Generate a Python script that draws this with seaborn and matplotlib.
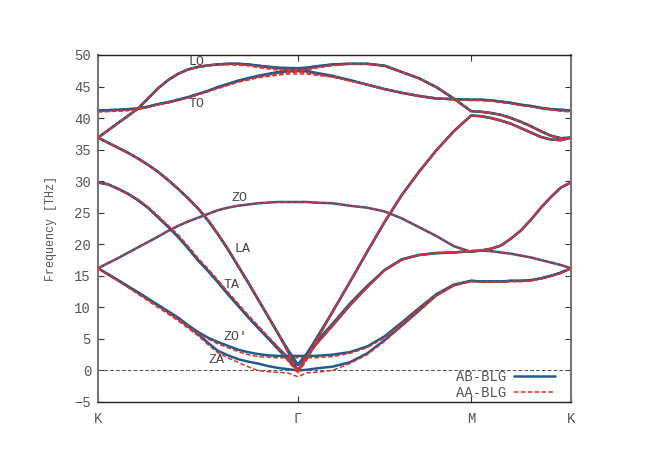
import numpy as np
import pandas as pd
import matplotlib
matplotlib.use("Agg")
import matplotlib.pyplot as plt
from matplotlib.lines import Line2D
import seaborn as sns

# --- path K - Gamma - M - K (segment lengths in units of |Gamma K|) ---
seg_len = [1.0, 0.866, 0.5]
path_labels = ["K", "Γ", "M", "K"]
frac_kg = [0.0, 0.05, 0.1, 0.15, 0.2, 0.25, 0.3, 0.35, 0.4, 0.45, 0.5,
           0.55, 0.6, 0.65, 0.7, 0.75, 0.8, 0.85, 0.9, 0.95, 1.0]
frac_gm = [0.05, 0.1, 0.2, 0.3, 0.4, 0.5, 0.6, 0.7, 0.8, 0.9, 1.0]
frac_mk = [0.1, 0.2, 0.3, 0.4, 0.5, 0.6, 0.7, 0.8, 0.9, 1.0]

# --- AB stacked bilayer (THz): K-G | G-M | M-K ---
ab_lo = [36.9, 38.05, 39.2, 40.35, 41.5, 43.1, 44.7, 46.0, 47.0, 47.7, 48.1, 48.35, 48.5, 48.6, 48.6, 48.5, 48.3, 48.15, 48.0, 47.95, 47.9,
         48.0, 48.2, 48.5, 48.6, 48.6, 48.3, 47.3, 46.3, 44.9, 43.1, 41.1,
         41.0, 40.8, 40.5, 40.0, 39.4, 38.7, 37.9, 37.2, 36.8, 36.9]
ab_lo2 = [36.9, 38.05, 39.2, 40.35, 41.5, 43.1, 44.7, 46.0, 47.0, 47.7, 48.1, 48.35, 48.5, 48.6, 48.6, 48.5, 48.3, 48.1, 47.9, 47.8, 47.75,
          47.85, 48.1, 48.5, 48.6, 48.6, 48.3, 47.3, 46.3, 44.9, 43.1, 41.1,
          41.0, 40.8, 40.5, 40.0, 39.4, 38.7, 37.9, 37.2, 36.8, 36.9]
ab_to = [41.2, 41.25, 41.3, 41.4, 41.5, 41.8, 42.2, 42.5, 42.9, 43.3, 43.8, 44.3, 44.9, 45.4, 45.9, 46.3, 46.7, 47.0, 47.3, 47.5, 47.6,
         47.5, 47.2, 46.7, 46.0, 45.3, 44.6, 44.0, 43.5, 43.1, 43.0, 42.9,
         42.9, 42.8, 42.6, 42.4, 42.1, 41.9, 41.6, 41.4, 41.3, 41.2]
ab_to2 = [41.2, 41.25, 41.3, 41.4, 41.5, 41.8, 42.2, 42.5, 42.9, 43.3, 43.8, 44.3, 44.9, 45.4, 45.9, 46.3, 46.6, 46.9, 47.2, 47.4, 47.45,
          47.4, 47.1, 46.6, 46.0, 45.3, 44.6, 44.0, 43.5, 43.1, 43.0, 42.9,
          42.9, 42.8, 42.6, 42.4, 42.1, 41.9, 41.6, 41.4, 41.3, 41.2]
ab_la = [36.9, 36.1, 35.3, 34.5, 33.6, 32.6, 31.5, 30.2, 28.8, 27.3, 25.7, 23.8, 21.6, 19.2, 16.6, 14.0, 11.3, 8.6, 5.9, 3.0, 0.0,
         2.2, 4.5, 9.3, 14.0, 18.8, 23.5, 27.8, 31.5, 34.9, 37.9, 40.4,
         40.3, 40.0, 39.6, 39.1, 38.4, 37.7, 37.0, 36.6, 36.5, 36.9]
ab_la2 = [36.9, 36.1, 35.3, 34.5, 33.6, 32.6, 31.5, 30.2, 28.8, 27.3, 25.7, 23.8, 21.6, 19.2, 16.6, 14.0, 11.3, 8.6, 5.9, 3.3, 0.9,
          2.6, 4.8, 9.3, 14.0, 18.8, 23.5, 27.8, 31.5, 34.9, 37.9, 40.4,
          40.3, 40.0, 39.6, 39.1, 38.4, 37.7, 37.0, 36.6, 36.5, 36.9]
ab_ta = [29.8, 29.5, 28.8, 28.0, 27.0, 25.8, 24.3, 22.8, 21.2, 19.4, 17.5, 15.8, 14.0, 12.1, 10.3, 8.5, 6.8, 5.1, 3.4, 1.7, 0.0,
         2.1, 4.0, 7.1, 10.3, 13.2, 15.9, 17.6, 18.3, 18.6, 18.7, 18.9,
         19.0, 19.3, 19.8, 20.9, 22.2, 23.9, 25.8, 27.5, 29.0, 29.8]
ab_ta2 = [29.8, 29.5, 28.8, 28.0, 27.0, 25.8, 24.3, 22.8, 21.2, 19.4, 17.5, 15.8, 14.0, 12.1, 10.3, 8.5, 6.8, 5.2, 3.6, 2.1, 0.9,
          2.6, 4.4, 7.4, 10.6, 13.4, 15.9, 17.6, 18.3, 18.6, 18.7, 18.9,
          19.0, 19.3, 19.8, 20.9, 22.2, 23.9, 25.8, 27.5, 29.0, 29.8]
ab_zo = [16.2, 17.0, 17.8, 18.65, 19.5, 20.35, 21.2, 22.1, 22.9, 23.6, 24.2, 24.8, 25.4, 25.8, 26.1, 26.3, 26.5, 26.6, 26.7, 26.7, 26.7,
         26.7, 26.6, 26.5, 26.1, 25.8, 25.2, 24.1, 22.7, 21.3, 19.7, 18.8,
         19.0, 18.9, 18.7, 18.5, 18.2, 17.9, 17.5, 17.1, 16.7, 16.2]
ab_za = [16.2, 15.25, 14.3, 13.3, 12.3, 11.3, 10.3, 9.25, 8.2, 7.0, 5.8, 4.4, 3.1, 2.4, 1.8, 1.4, 1.1, 0.7, 0.4, 0.2, 0.0,
         0.1, 0.3, 0.6, 1.3, 2.7, 4.8, 7.1, 9.5, 11.9, 13.5, 14.2,
         14.1, 14.1, 14.1, 14.2, 14.2, 14.3, 14.6, 15.0, 15.5, 16.2]
ab_zo2 = [16.2, 15.25, 14.3, 13.35, 12.4, 11.4, 10.4, 9.4, 8.4, 7.2, 6.1, 5.2, 4.5, 3.9, 3.3, 2.9, 2.6, 2.4, 2.3, 2.3, 2.3,
          2.3, 2.3, 2.5, 2.9, 3.8, 5.4, 7.6, 9.9, 12.1, 13.6, 14.2,
          14.1, 14.1, 14.1, 14.2, 14.2, 14.3, 14.6, 15.0, 15.5, 16.2]

# --- AA stacked bilayer (THz) ---
aa_lo = [36.9, 38.05, 39.2, 40.35, 41.5, 43.1, 44.7, 46.0, 47.0, 47.7, 48.1, 48.35, 48.5, 48.55, 48.5, 48.4, 48.2, 48.0, 47.8, 47.7, 47.7,
         47.8, 48.0, 48.4, 48.6, 48.6, 48.3, 47.3, 46.3, 44.9, 43.1, 41.1,
         41.0, 40.8, 40.5, 40.0, 39.4, 38.7, 37.9, 37.2, 36.8, 36.9]
aa_lo2 = [36.9, 38.05, 39.2, 40.35, 41.5, 43.1, 44.7, 46.0, 47.0, 47.7, 48.1, 48.35, 48.5, 48.45, 48.4, 48.3, 48.0, 47.8, 47.6, 47.5, 47.5,
          47.6, 47.9, 48.3, 48.6, 48.6, 48.3, 47.3, 46.3, 44.9, 43.1, 41.1,
          41.0, 40.8, 40.5, 40.0, 39.4, 38.7, 37.9, 37.2, 36.8, 36.9]
aa_to = [41.0, 41.05, 41.1, 41.2, 41.4, 41.7, 42.1, 42.4, 42.8, 43.2, 43.7, 44.2, 44.7, 45.2, 45.7, 46.1, 46.5, 46.8, 47.0, 47.2, 47.3,
         47.2, 47.0, 46.6, 45.9, 45.3, 44.6, 44.0, 43.5, 43.1, 42.9, 42.8,
         42.8, 42.7, 42.5, 42.3, 42.0, 41.8, 41.5, 41.3, 41.1, 41.0]
aa_to2 = [41.0, 41.05, 41.1, 41.2, 41.4, 41.7, 42.1, 42.4, 42.8, 43.2, 43.7, 44.2, 44.7, 45.2, 45.7, 46.0, 46.4, 46.6, 46.8, 47.0, 47.0,
          47.0, 46.8, 46.5, 45.9, 45.3, 44.6, 44.0, 43.5, 43.1, 42.9, 42.8,
          42.8, 42.7, 42.5, 42.3, 42.0, 41.8, 41.5, 41.3, 41.1, 41.0]
aa_la = [36.9, 36.1, 35.3, 34.5, 33.6, 32.6, 31.5, 30.2, 28.8, 27.3, 25.7, 23.9, 21.7, 19.3, 16.7, 14.1, 11.4, 8.7, 6.0, 3.0, 0.0,
         2.2, 4.5, 9.3, 14.0, 18.8, 23.5, 27.8, 31.5, 34.9, 37.9, 40.4,
         40.3, 40.0, 39.6, 39.1, 38.4, 37.7, 37.0, 36.6, 36.5, 36.9]
aa_la2 = [36.9, 36.1, 35.3, 34.5, 33.6, 32.6, 31.5, 30.2, 28.8, 27.3, 25.7, 23.9, 21.7, 19.3, 16.7, 14.1, 11.4, 8.7, 6.0, 2.8, -0.4,
          1.6, 4.1, 9.3, 14.0, 18.8, 23.5, 27.8, 31.5, 34.9, 37.9, 40.4,
          40.3, 40.0, 39.6, 39.1, 38.4, 37.7, 37.0, 36.6, 36.5, 36.9]
aa_ta = [29.8, 29.5, 28.8, 28.0, 27.1, 25.9, 24.5, 23.0, 21.5, 19.7, 17.8, 16.1, 14.3, 12.4, 10.6, 8.8, 7.1, 5.4, 3.7, 1.9, 0.0,
         2.0, 3.9, 7.0, 10.2, 13.1, 15.8, 17.5, 18.3, 18.6, 18.7, 18.9,
         19.0, 19.3, 19.8, 20.9, 22.2, 23.9, 25.8, 27.5, 29.0, 29.8]
aa_ta2 = [29.8, 29.5, 28.8, 28.0, 27.1, 25.9, 24.5, 23.0, 21.5, 19.7, 17.8, 16.1, 14.3, 12.4, 10.6, 8.8, 7.1, 5.4, 3.7, 1.5, -0.4,
          1.8, 3.9, 7.2, 10.4, 13.3, 15.8, 17.5, 18.3, 18.6, 18.7, 18.9,
          19.0, 19.3, 19.8, 20.9, 22.2, 23.9, 25.8, 27.5, 29.0, 29.8]
aa_zo = [16.2, 17.0, 17.8, 18.65, 19.5, 20.35, 21.2, 22.1, 22.9, 23.6, 24.2, 24.8, 25.4, 25.8, 26.1, 26.3, 26.5, 26.6, 26.7, 26.7, 26.7,
         26.7, 26.6, 26.5, 26.1, 25.8, 25.2, 24.1, 22.7, 21.3, 19.7, 18.8,
         19.0, 18.9, 18.7, 18.5, 18.2, 17.9, 17.5, 17.1, 16.7, 16.2]
aa_za = [16.2, 15.2, 14.2, 13.15, 12.1, 11.05, 10.0, 8.95, 7.9, 6.7, 5.5, 4.1, 2.8, 2.0, 1.3, 0.6, 0.0, -0.2, -0.3, -0.4, -1.0,
         -0.4, -0.3, 0.0, 1.1, 2.5, 4.6, 7.0, 9.4, 11.8, 13.4, 14.1,
         14.0, 14.0, 14.0, 14.1, 14.1, 14.2, 14.5, 14.9, 15.4, 16.2]
aa_zo2 = [16.2, 15.2, 14.2, 13.2, 12.2, 11.2, 10.2, 9.2, 8.2, 7.0, 5.9, 5.0, 4.2, 3.6, 3.0, 2.5, 2.2, 2.1, 2.0, 2.0, 2.0,
          2.0, 2.0, 2.2, 2.7, 3.6, 5.2, 7.4, 9.8, 12.0, 13.5, 14.1,
          14.0, 14.0, 14.0, 14.1, 14.1, 14.2, 14.5, 14.9, 15.4, 16.2]

# branch labels and where they sit (path coordinate, THz)
mode_names = ["LO", "TO", "ZO", "LA", "TA", "ZO′", "ZA"]
mode_q = [0.495, 0.495, 0.71, 0.725, 0.67, 0.69, 0.595]
mode_f = [48.9, 42.2, 27.3, 19.2, 13.6, 5.3, 1.6]

blue = "#1f5b8e"
red = "#e3302a"

# build long table
q = np.concatenate([np.array(frac_kg) * seg_len[0],
                    seg_len[0] + np.array(frac_gm) * seg_len[1],
                    seg_len[0] + seg_len[1] + np.array(frac_mk) * seg_len[2]])
ticks_q = np.concatenate([[0], np.cumsum(seg_len)])

stacks = {
    "AB-BLG": {"lo": ab_lo, "lo2": ab_lo2, "to": ab_to, "to2": ab_to2,
               "la": ab_la, "la2": ab_la2, "ta": ab_ta, "ta2": ab_ta2,
               "zo": ab_zo, "za": ab_za, "zo2": ab_zo2},
    "AA-BLG": {"lo": aa_lo, "lo2": aa_lo2, "to": aa_to, "to2": aa_to2,
               "la": aa_la, "la2": aa_la2, "ta": aa_ta, "ta2": aa_ta2,
               "zo": aa_zo, "za": aa_za, "zo2": aa_zo2},
}
frames = []
for stack, branches in stacks.items():
    for name, vals in branches.items():
        frames.append(pd.DataFrame({"q": q, "freq": vals, "branch": name, "stack": stack}))
df = pd.concat(frames, ignore_index=True)

sns.set_style("ticks")
plt.rcParams["font.family"] = ["Liberation Mono", "DejaVu Sans Mono"]

fig = plt.figure(figsize=(6.54, 4.62), dpi=100)
ax = fig.add_axes([0.1498, 0.1299, 0.7233, 0.7511])

ax.axhline(0, color="#555555", lw=0.7, ls=(0, (4, 2)), zorder=1)

sns.lineplot(data=df[df["stack"] == "AB-BLG"], x="q", y="freq", units="branch",
             estimator=None, color=blue, lw=1.8, ax=ax, legend=False, zorder=2)
sns.lineplot(data=df[df["stack"] == "AA-BLG"], x="q", y="freq", units="branch",
             estimator=None, color=red, lw=1.1, ls=(0, (3, 1.5)), ax=ax,
             legend=False, zorder=3)

for name, xq, f in zip(mode_names, mode_q, mode_f):
    ax.text(xq, f, name, ha="center", va="center", fontsize=9.5, color="#444444")

ax.set_xlim(ticks_q[0], ticks_q[-1])
ax.set_ylim(-5, 50)
ax.set_yticks(np.arange(-5, 51, 5))
ax.set_xticks(ticks_q)
ax.set_xticklabels(path_labels)
ax.get_xticklabels()[1].set_fontsize(12)
ax.set_xlabel("")
ax.set_ylabel("Frequency [THz]", fontsize=8.5, color="#555555")
ax.yaxis.set_label_coords(-0.087, 0.5)

ax.tick_params(direction="in", top=True, right=True, length=4.5, width=0.8,
               color="#333333", labelcolor="#555555", labelsize=10)
ax.tick_params(axis="x", pad=7)
ax.tick_params(axis="y", pad=5)
for side in ["top", "bottom"]:
    ax.spines[side].set_color("#222222")
    ax.spines[side].set_linewidth(1.0)
for side in ["left", "right"]:
    ax.spines[side].set_color("#777777")
    ax.spines[side].set_linewidth(1.5)

handles = [Line2D([], [], color=blue, lw=1.8),
           Line2D([], [], color=red, lw=1.1, ls=(0, (3, 1.5)))]
ax.legend(handles, list(stacks.keys()), loc="lower right", frameon=False,
          markerfirst=False, handlelength=3.0, handletextpad=0.5,
          labelspacing=0.15, fontsize=10, labelcolor="#555555",
          bbox_to_anchor=(0.993, -0.03))

fig.savefig("out.png", dpi=100)
